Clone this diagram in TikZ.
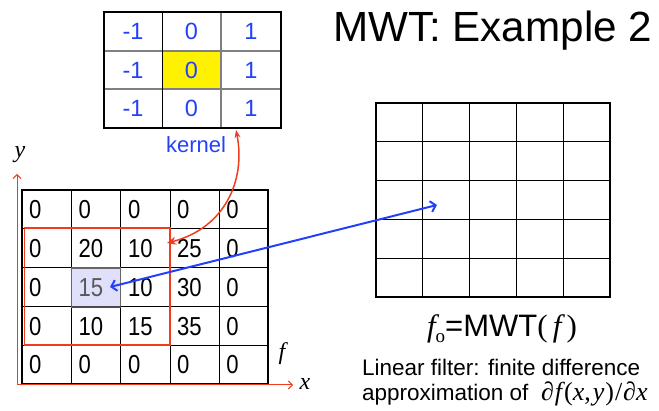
\documentclass[tikz,border=0pt]{standalone}
\usepackage{fontspec}
\setmainfont{Liberation Sans}
\newfontfamily\serif{Liberation Serif}
\usetikzlibrary{arrows.meta}
\definecolor{kblue}{RGB}{35,65,250}
\definecolor{ared}{RGB}{240,60,30}
\definecolor{lav}{RGB}{224,224,250}
\newcommand{\cnum}[1]{\scalebox{0.85}[1]{#1}}
\begin{document}
\begin{tikzpicture}[x=1pt,y=-1pt,
  kernnum/.style={text=kblue,font=\fontsize{23.5}{23.5}\selectfont,anchor=center,inner sep=0pt},
  gridnum/.style={font=\fontsize{26}{26}\selectfont,anchor=west,inner sep=0pt},
  thinline/.style={line width=1pt},
  grayline/.style={gray,line width=1.3pt},
  frame/.style={line width=2.2pt},
  axis/.style={ared,line width=1pt,-{Straight Barb[length=4pt,width=8pt]}},
  serifit/.style={font=\serif\itshape\fontsize{24}{24}\selectfont,inner sep=0pt}
]
\useasboundingbox (0,0) rectangle (659,411);

% ---------- kernel ----------
\fill[yellow] (162,51) rectangle (221,89);
\draw[grayline] (104,51) -- (281,51);
\draw[grayline] (104,89) -- (281,89);
\draw[thinline] (162,12) -- (162,128);
\draw[grayline] (221,12) -- (221,128);
\draw[frame] (104,12) rectangle (281,128);
\foreach \r/\y in {1/31.5,2/70,3/108.5}{
  \node[kernnum] (k-\r-1) at (133,\y) {-1};
  \node[kernnum] (k-\r-2) at (191.5,\y) {0};
  \node[kernnum] (k-\r-3) at (251,\y) {1};
}
\node[text=kblue,font=\fontsize{22}{22}\selectfont,anchor=base,inner sep=0pt] (kernel) at (196,153) {kernel};
\coordinate (kbot) at (236,130);

% ---------- input image f ----------
\fill[lav] (71.5,268) rectangle (120.8,307);
\foreach \x in {71.5,120.8,170,219.2}{\draw[thinline] (\x,190) -- (\x,384);}
\foreach \y in {229,268,307,345.5}{\draw[thinline] (22,\y) -- (268,\y);}
\draw[gray!80!black,line width=1.3pt] (71.5,268) rectangle (120.8,307);
\draw[gray!60!black,line width=2pt] (71.5,307) -- (120.8,307);
\draw[frame] (22,190) rectangle (268,384);

\foreach \r/\y/\a/\b/\c/\d/\e in {1/210/0/0/0/0/0,2/248.5/0/20/10/25/0,4/326.5/0/10/15/35/0,5/365/0/0/0/0/0}{
  \node[gridnum] (f-\r-1) at (29,\y) {\cnum{\a}};
  \node[gridnum] (f-\r-2) at (78.5,\y) {\cnum{\b}};
  \node[gridnum] (f-\r-3) at (127.8,\y) {\cnum{\c}};
  \node[gridnum] (f-\r-4) at (177,\y) {\cnum{\d}};
  \node[gridnum] (f-\r-5) at (226.2,\y) {\cnum{\e}};
}
\node[gridnum] (f-3-1) at (29,287.5) {\cnum{0}};
\node[gridnum,text=black!65] (f-3-2) at (78.5,287.5) {\cnum{15}};
\node[gridnum] (f-3-3) at (127.8,287.5) {\cnum{10}};
\node[gridnum] (f-3-4) at (177,287.5) {\cnum{30}};
\node[gridnum] (f-3-5) at (226.2,287.5) {\cnum{0}};

\draw[ared,line width=1.5pt] (24.5,228) rectangle (170,345);
\coordinate (rtarget) at (167,243);
\coordinate (c15) at (110,287);

% axes
\coordinate (origin) at (17,385);
\coordinate (yend) at (17,174);
\coordinate (xend) at (293,385);
\draw[axis] (origin) -- (yend);
\draw[axis] (origin) -- (xend);
\node[serifit] (ylab) at (20,155) {y};
\node[serifit] (xlab) at (305,384) {x};
\node[serifit] (flab) at (282,354) {f};

% ---------- output grid ----------
\foreach \x in {422.8,469.6,516.4,563.2}{\draw[thinline] (\x,103) -- (\x,297);}
\foreach \y in {141.8,180.6,219.4,258.2}{\draw[thinline] (376,\y) -- (610,\y);}
\draw[frame] (376,103) rectangle (610,297);
\coordinate (outpt) at (437,205);

% ---------- connectors ----------
\draw[ared,line width=1.5pt,{Stealth[length=8pt,width=6pt]}-{Stealth[length=9pt,width=8pt]}]
  (kbot) .. controls (246,180) and (225,228) .. (rtarget);
\draw[kblue,line width=2pt,{Straight Barb[length=5pt,width=11pt]}-{Straight Barb[length=5pt,width=11pt]}]
  (c15) -- (outpt);

% ---------- texts ----------
\node[font=\fontsize{42.2}{42}\selectfont,anchor=base west,inner sep=0pt] (title) at (333,42) {MWT: Example 2};
\node[anchor=base,inner sep=0pt,font=\fontsize{31}{31}\selectfont] (fo) at (502,337)
  {{\serif\itshape f}\raisebox{-0.35ex}{\serif\fontsize{19}{19}\selectfont o}=MWT{\serif(\,\itshape f\,\upshape)}};
\node[anchor=base west,inner sep=0pt,font=\fontsize{22.5}{22.5}\selectfont] (lin1) at (362,376) {Linear filter: finite difference};
\node[anchor=base west,inner sep=0pt,font=\fontsize{22.5}{22.5}\selectfont] (lin2) at (362,401)
  {approximation of \ {\serif\fontsize{26}{26}\selectfont\itshape ∂\kern1pt f\kern2pt\upshape(\itshape x\upshape,\kern2pt\itshape y\kern1pt\upshape)\kern1pt/\kern1pt\itshape∂x}};
\end{tikzpicture}
\end{document}
